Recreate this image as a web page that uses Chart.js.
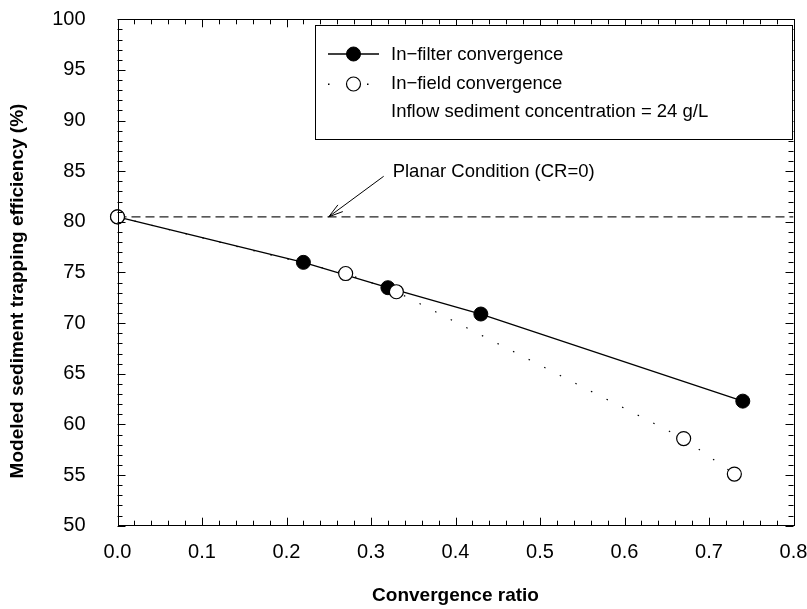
<!DOCTYPE html>
<html>
<head>
<meta charset="utf-8">
<script src="https://cdn.jsdelivr.net/npm/chart.js@4.4.0/dist/chart.umd.min.js"></script>
<style>
  html, body { margin: 0; padding: 0; background: #fff; }
  #wrap { width: 807px; height: 609px; }
</style>
</head>
<body>
<div id="wrap"><canvas id="chart" width="807" height="609"></canvas></div>
<script>
'use strict';

// in-filter convergence (filled circles, solid line)
const filterX = [0, 0.22, 0.32, 0.43, 0.74];
const filterY = [80.5, 76.0, 73.5, 70.9, 62.3];

// in-field convergence (open circles, dotted line)
const fieldX = [0, 0.27, 0.33, 0.67, 0.73];
const fieldY = [80.5, 74.9, 73.1, 58.6, 55.1];

// planar condition, CR = 0
const planarX = [0, 0.8];
const planarY = [80.5, 80.5];

const xTicks = [0, 0.1, 0.2, 0.3, 0.4, 0.5, 0.6, 0.7, 0.8];
const yTicks = [50, 55, 60, 65, 70, 75, 80, 85, 90, 95, 100];

const legendLabels = ['In\u2212filter convergence', 'In\u2212field convergence', 'Inflow sediment concentration = 24 g/L'];
const yTitle = 'Modeled sediment trapping efficiency (%)';
const noteText = 'Planar Condition (CR=0)';
const noteTip = { x: 0.25, y: 80.5 };
const noteTail = { x: 0.315, y: 84.5 };

const FONT = "'Liberation Sans', Arial, sans-serif";

const toPoints = (xs, ys) => xs.map((x, i) => ({ x, y: ys[i] }));

// frame, inward ticks, y title, annotation and legend box
const decor = {
  id: 'decor',
  afterDraw(chart) {
    const { ctx, chartArea: a, scales: { x, y } } = chart;
    ctx.save();
    ctx.strokeStyle = '#000';
    ctx.lineWidth = 1;
    ctx.strokeRect(Math.round(a.left) + 0.5, Math.round(a.top) + 0.5,
      Math.round(a.right - a.left), Math.round(a.bottom - a.top));

    ctx.beginPath();
    for (let v = 0; v <= 0.8001; v += 0.02) {
      const px = Math.round(x.getPixelForValue(v)) + 0.5;
      const major = Math.abs(v * 10 - Math.round(v * 10)) < 1e-6;
      const len = major ? 8 : 5;
      ctx.moveTo(px, a.bottom); ctx.lineTo(px, a.bottom - len);
      ctx.moveTo(px, a.top); ctx.lineTo(px, a.top + len);
    }
    for (let v = 50; v <= 100; v += 1) {
      const py = Math.round(y.getPixelForValue(v)) + 0.5;
      const len = v % 5 === 0 ? 8 : 5;
      ctx.moveTo(a.left, py); ctx.lineTo(a.left + len, py);
      ctx.moveTo(a.right, py); ctx.lineTo(a.right - len, py);
    }
    ctx.stroke();

    // y axis title (sits a bit below the axis centre in the original)
    ctx.save();
    ctx.translate(18, 291);
    ctx.rotate(-Math.PI / 2);
    ctx.fillStyle = '#000';
    ctx.font = 'bold 19px ' + FONT;
    ctx.textAlign = 'center';
    ctx.textBaseline = 'middle';
    ctx.fillText(yTitle, 0, 0);
    ctx.restore();

    // arrow for planar condition
    const tx = x.getPixelForValue(noteTip.x), ty = y.getPixelForValue(noteTip.y);
    const sx = x.getPixelForValue(noteTail.x), sy = y.getPixelForValue(noteTail.y);
    const ang = Math.atan2(ty - sy, tx - sx);
    ctx.beginPath();
    ctx.moveTo(sx, sy); ctx.lineTo(tx, ty);
    for (const d of [-0.28, 0.28]) {
      ctx.moveTo(tx, ty);
      ctx.lineTo(tx - 15 * Math.cos(ang + d), ty - 15 * Math.sin(ang + d));
    }
    ctx.stroke();
    ctx.fillStyle = '#000';
    ctx.font = '18.5px ' + FONT;
    ctx.textBaseline = 'alphabetic';
    ctx.fillText(noteText, sx + 9, sy + 1);

    // legend
    const box = { l: 315, t: 25, r: 792, b: 139 };
    ctx.fillStyle = '#fff';
    ctx.fillRect(box.l, box.t, box.r - box.l, box.b - box.t);
    ctx.strokeRect(box.l + 0.5, box.t + 0.5, box.r - box.l, box.b - box.t);

    const ds = chart.data.datasets;
    [54, 84].forEach((ry, i) => {
      const d = ds[i === 0 ? 1 : 0];
      ctx.save();
      ctx.strokeStyle = d.borderColor;
      ctx.lineWidth = d.borderWidth;
      if (i === 0) {
        ctx.beginPath(); ctx.moveTo(328, ry); ctx.lineTo(379, ry); ctx.stroke();
      } else {
        ctx.fillStyle = '#000';
        ctx.fillRect(328, ry - 0.5, 1.5, 1.5);
        ctx.fillRect(367, ry - 0.5, 1.5, 1.5);
      }
      ctx.beginPath();
      ctx.arc(353.5, ry, d.pointRadius, 0, Math.PI * 2);
      ctx.fillStyle = d.pointBackgroundColor;
      ctx.fill();
      ctx.lineWidth = d.pointBorderWidth;
      ctx.strokeStyle = d.pointBorderColor;
      ctx.stroke();
      ctx.restore();
    });
    ctx.fillStyle = '#000';
    ctx.font = '18.5px ' + FONT;
    [60, 89, 117].forEach((by, i) => ctx.fillText(legendLabels[i], 391, by));
    ctx.restore();
  }
};

new Chart(document.getElementById('chart'), {
  type: 'line',
  data: {
    datasets: [
      {
        label: legendLabels[1],
        data: toPoints(fieldX, fieldY),
        order: 0,
        clip: false,
        borderColor: '#000',
        borderWidth: 1.2,
        borderDash: [1.5, 16],
        pointRadius: 7,
        pointBorderWidth: 1.2,
        pointBorderColor: '#000',
        pointBackgroundColor: '#fff'
      },
      {
        label: legendLabels[0],
        data: toPoints(filterX, filterY),
        order: 1,
        clip: false,
        borderColor: '#000',
        borderWidth: 1.3,
        pointRadius: 7,
        pointBorderWidth: 1,
        pointBorderColor: '#000',
        pointBackgroundColor: '#000'
      },
      {
        label: 'Planar',
        data: toPoints(planarX, planarY),
        order: 2,
        borderColor: '#222',
        borderWidth: 1.2,
        borderDash: [9, 5],
        pointRadius: 0
      }
    ]
  },
  options: {
    responsive: false,
    animation: false,
    layout: { padding: { left: 0, right: 13.5, top: 19.3, bottom: 0 } },
    plugins: { legend: { display: false }, tooltip: { enabled: false } },
    scales: {
      x: {
        type: 'linear',
        min: 0, max: 0.8,
        afterBuildTicks: s => { s.ticks = xTicks.map(v => ({ value: v })); },
        afterFit: s => { s.height = 83.3; s.paddingLeft = 0; s.paddingRight = 0; },
        grid: { display: false, drawTicks: false },
        border: { display: false },
        ticks: { color: '#000', padding: 15, font: { family: FONT, size: 20 }, callback: v => v.toFixed(1), maxRotation: 0 },
        title: { display: true, text: 'Convergence ratio', color: '#000', font: { family: FONT, size: 19, weight: 'bold' }, padding: { top: 0, bottom: 2 } }
      },
      y: {
        min: 50, max: 100,
        afterBuildTicks: s => { s.ticks = yTicks.map(v => ({ value: v })); },
        afterFit: s => { s.width = 117.5; s.paddingTop = 0; s.paddingBottom = 0; },
        grid: { display: false, drawTicks: false },
        border: { display: false },
        ticks: { color: '#000', padding: 32, font: { family: FONT, size: 20 } },
        title: { display: false }
      }
    }
  },
  plugins: [decor]
});
</script>
</body>
</html>
